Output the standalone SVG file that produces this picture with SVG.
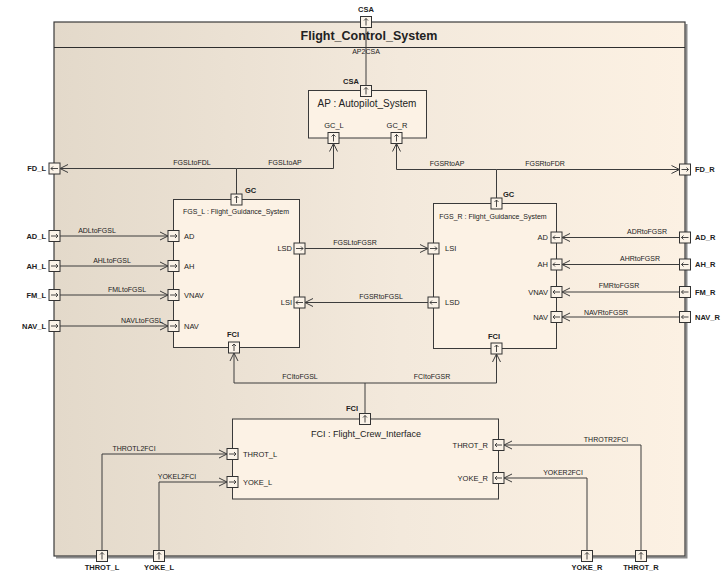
<svg xmlns="http://www.w3.org/2000/svg" xmlns:xlink="http://www.w3.org/1999/xlink" width="721" height="572" viewBox="0 0 721 572">
  <defs>
    <linearGradient id="frameFill" x1="0" y1="0" x2="1" y2="0">
      <stop offset="0" stop-color="#e3d9ca"/>
      <stop offset="0.55" stop-color="#f3e9dc"/>
      <stop offset="1" stop-color="#fcf1e3"/>
    </linearGradient>
    <marker id="open" viewBox="-9 -5 10 10" refX="0" refY="0" markerWidth="10" markerHeight="10" markerUnits="userSpaceOnUse" orient="auto">
      <path d="M-8,-4 L0,0 L-8,4" fill="none" stroke="#3c3c3c" stroke-width="1"/>
    </marker>
    <!-- port glyphs, centred on 0,0 -->
    <g id="pu">
      <rect x="-5.5" y="-5.5" width="11" height="11" fill="#fbf3e8" stroke="#333" stroke-width="1"/>
      <path d="M0,3.5 V-3.5 M-2,-1.5 L0,-3.5 L2,-1.5" fill="none" stroke="#333" stroke-width="0.9"/>
    </g>
    <g id="pr">
      <rect x="-5.5" y="-5.5" width="11" height="11" fill="#fbf3e8" stroke="#333" stroke-width="1"/>
      <path d="M-3.5,0 H3.5 M1.5,-2 L3.5,0 L1.5,2" fill="none" stroke="#333" stroke-width="0.9"/>
    </g>
    <g id="pl">
      <rect x="-5.5" y="-5.5" width="11" height="11" fill="#fbf3e8" stroke="#333" stroke-width="1"/>
      <path d="M3.5,0 H-3.5 M-1.5,-2 L-3.5,0 L-1.5,2" fill="none" stroke="#333" stroke-width="0.9"/>
    </g>
  </defs>
  <style>
    text { font-family: "Liberation Sans", Arial, sans-serif; fill: #222; }
    .title { font-size: 12.5px; font-weight: bold; text-anchor: middle; }
    .part { font-size: 10px; text-anchor: middle; }
    .partS { font-size: 7px; text-anchor: middle; }
    .partM { font-size: 9px; text-anchor: middle; }
    .cl { font-size: 7px; text-anchor: middle; }
    .pl { font-size: 7.5px; }
    .ob { font-size: 7.5px; font-weight: bold; }
    .mid { text-anchor: middle; }
    .end { text-anchor: end; }
    .box { fill: #fcf2e5; stroke: #3a3a3a; stroke-width: 1; }
    .wire { fill: none; stroke: #3c3c3c; stroke-width: 1; }
    .arr { marker-end: url(#open); }
  </style>

  <rect width="721" height="572" fill="#ffffff"/>

  <!-- outer block: Flight_Control_System -->
  <g id="Flight_Control_System">
    <path d="M686.5,24 V557.5 H56" fill="none" stroke="#8c8c8c" stroke-width="2"/>
    <rect x="54" y="22" width="631" height="534" fill="url(#frameFill)" stroke="#3a3a3a" stroke-width="1.2"/>
    <line x1="54" y1="47.5" x2="685" y2="47.5" stroke="#2e2e2e" stroke-width="1.2"/>
    <text class="title" x="369" y="40">Flight_Control_System</text>

    <use xlink:href="#pu" x="366" y="22"/>
    <text class="ob mid" x="366" y="12">CSA</text>

    <use xlink:href="#pl" x="54.5" y="168.5"/>
    <text class="ob end" x="46" y="171">FD_L</text>
    <use xlink:href="#pr" x="54.5" y="236"/>
    <text class="ob end" x="46" y="238.5">AD_L</text>
    <use xlink:href="#pr" x="54.5" y="266"/>
    <text class="ob end" x="46" y="268.5">AH_L</text>
    <use xlink:href="#pr" x="54.5" y="295"/>
    <text class="ob end" x="46" y="297.5">FM_L</text>
    <use xlink:href="#pr" x="54.5" y="326"/>
    <text class="ob end" x="46" y="328.5">NAV_L</text>

    <use xlink:href="#pr" x="685" y="169.5"/>
    <text class="ob" x="695" y="172">FD_R</text>
    <use xlink:href="#pl" x="685" y="237.5"/>
    <text class="ob" x="695" y="240">AD_R</text>
    <use xlink:href="#pl" x="685" y="264.5"/>
    <text class="ob" x="695" y="267">AH_R</text>
    <use xlink:href="#pl" x="685" y="292"/>
    <text class="ob" x="695" y="294.5">FM_R</text>
    <use xlink:href="#pl" x="685" y="317"/>
    <text class="ob" x="695" y="319.5">NAV_R</text>

    <use xlink:href="#pu" x="102" y="556"/>
    <text class="ob mid" x="102" y="570">THROT_L</text>
    <use xlink:href="#pu" x="159" y="556"/>
    <text class="ob mid" x="159" y="570">YOKE_L</text>
    <use xlink:href="#pu" x="587" y="556"/>
    <text class="ob mid" x="587" y="570">YOKE_R</text>
    <use xlink:href="#pu" x="641" y="556"/>
    <text class="ob mid" x="641" y="570">THROT_R</text>
  </g>

  <!-- AP : Autopilot_System -->
  <g id="AP">
    <rect class="box" x="308.5" y="90.5" width="118" height="47.5"/>
    <text class="part" x="367" y="107">AP : Autopilot_System</text>
    <use xlink:href="#pu" x="366" y="91"/>
    <text class="ob mid" x="351" y="84">CSA</text>
    <use xlink:href="#pu" x="333.5" y="138"/>
    <text class="pl mid" x="334" y="128">GC_L</text>
    <use xlink:href="#pu" x="396.5" y="138"/>
    <text class="pl mid" x="397" y="128">GC_R</text>
  </g>

  <!-- FGS_L : Flight_Guidance_System -->
  <g id="FGS_L">
    <rect class="box" x="173.5" y="199.5" width="126" height="148"/>
    <text class="partS" x="236" y="214">FGS_L : Flight_Guidance_System</text>
    <use xlink:href="#pu" x="236.5" y="199.5"/>
    <text class="ob" x="245" y="193">GC</text>
    <use xlink:href="#pr" x="173.5" y="236"/>
    <text class="pl" x="184" y="238.5">AD</text>
    <use xlink:href="#pr" x="173.5" y="266"/>
    <text class="pl" x="184" y="268.5">AH</text>
    <use xlink:href="#pr" x="173.5" y="295"/>
    <text class="pl" x="184" y="297.5">VNAV</text>
    <use xlink:href="#pr" x="173.5" y="326"/>
    <text class="pl" x="184" y="328.5">NAV</text>
    <use xlink:href="#pr" x="299.5" y="248.5"/>
    <text class="pl end" x="292" y="251">LSD</text>
    <use xlink:href="#pl" x="299.5" y="302.5"/>
    <text class="pl end" x="292" y="305">LSI</text>
    <use xlink:href="#pu" x="234" y="347.5"/>
    <text class="ob mid" x="233" y="337">FCI</text>
  </g>

  <!-- FGS_R : Flight_Guidance_System -->
  <g id="FGS_R">
    <rect class="box" x="433.5" y="203.5" width="123" height="145"/>
    <text class="partS" x="493" y="219">FGS_R : Flight_Guidance_System</text>
    <use xlink:href="#pu" x="496.5" y="203.5"/>
    <text class="ob" x="503" y="197">GC</text>
    <use xlink:href="#pr" x="433.5" y="248.5"/>
    <text class="pl" x="445" y="251">LSI</text>
    <use xlink:href="#pl" x="433.5" y="302.5"/>
    <text class="pl" x="445" y="305">LSD</text>
    <use xlink:href="#pl" x="556.5" y="237.5"/>
    <text class="pl end" x="548" y="240">AD</text>
    <use xlink:href="#pl" x="556.5" y="264.5"/>
    <text class="pl end" x="548" y="267">AH</text>
    <use xlink:href="#pl" x="556.5" y="292"/>
    <text class="pl end" x="548" y="294.5">VNAV</text>
    <use xlink:href="#pl" x="556.5" y="317"/>
    <text class="pl end" x="548" y="319.5">NAV</text>
    <use xlink:href="#pu" x="496.5" y="348.5"/>
    <text class="ob mid" x="494" y="339">FCI</text>
  </g>

  <!-- FCI : Flight_Crew_Interface -->
  <g id="FCI">
    <rect class="box" x="232.5" y="419" width="266" height="80"/>
    <text class="partM" x="366" y="437">FCI : Flight_Crew_Interface</text>
    <use xlink:href="#pu" x="365" y="419"/>
    <text class="ob end" x="358" y="411">FCI</text>
    <use xlink:href="#pr" x="232.5" y="454"/>
    <text class="pl" x="243" y="456.5">THROT_L</text>
    <use xlink:href="#pr" x="232.5" y="482"/>
    <text class="pl" x="243" y="484.5">YOKE_L</text>
    <use xlink:href="#pl" x="498.5" y="445"/>
    <text class="pl end" x="488" y="447.5">THROT_R</text>
    <use xlink:href="#pl" x="498.5" y="478"/>
    <text class="pl end" x="488" y="480.5">YOKE_R</text>
  </g>

  <!-- connectors -->
  <g id="connectors">
    <path class="wire" d="M366,85.5 V27.5"/>
    <text class="cl" x="366" y="53.5">AP2CSA</text>

    <path class="wire arr" d="M236.5,194 V168.5 H60"/>
    <path class="wire arr" d="M236.5,168.5 H333.5 V143.5"/>
    <text class="cl" x="192" y="165">FGSLtoFDL</text>
    <text class="cl" x="285" y="165">FGSLtoAP</text>

    <path class="wire arr" d="M496.5,198 V169.5 H679.5"/>
    <path class="wire arr" d="M496.5,169.5 H396.5 V143.5"/>
    <text class="cl" x="447" y="166">FGSRtoAP</text>
    <text class="cl" x="545" y="166">FGSRtoFDR</text>

    <path class="wire arr" d="M60,236 H168"/>
    <text class="cl" x="97" y="232.5">ADLtoFGSL</text>
    <path class="wire arr" d="M60,266 H168"/>
    <text class="cl" x="112" y="262.5">AHLtoFGSL</text>
    <path class="wire arr" d="M60,295 H168"/>
    <text class="cl" x="127" y="292">FMLtoFGSL</text>
    <path class="wire arr" d="M60,326 H168"/>
    <text class="cl" x="142" y="322.5">NAVLtoFGSL</text>

    <path class="wire arr" d="M305,248.5 H428"/>
    <text class="cl" x="355" y="244.5">FGSLtoFGSR</text>
    <path class="wire arr" d="M428,302.5 H305"/>
    <text class="cl" x="381" y="299">FGSRtoFGSL</text>

    <path class="wire arr" d="M679.5,237.5 H562"/>
    <text class="cl" x="647" y="233.5">ADRtoFGSR</text>
    <path class="wire arr" d="M679.5,264.5 H562"/>
    <text class="cl" x="640" y="260.5">AHRtoFGSR</text>
    <path class="wire arr" d="M679.5,292 H562"/>
    <text class="cl" x="619" y="287.5">FMRtoFGSR</text>
    <path class="wire arr" d="M679.5,317 H562"/>
    <text class="cl" x="606" y="314.5">NAVRtoFGSR</text>

    <path class="wire arr" d="M365,413.5 V383 H234 V353"/>
    <path class="wire arr" d="M365,383 H496.5 V354"/>
    <text class="cl" x="300" y="378.5">FCItoFGSL</text>
    <text class="cl" x="432" y="378.5">FCItoFGSR</text>

    <path class="wire arr" d="M102,550.5 V454 H227"/>
    <text class="cl" x="134" y="450.5">THROTL2FCI</text>
    <path class="wire arr" d="M159,550.5 V482 H227"/>
    <text class="cl" x="177" y="478.5">YOKEL2FCI</text>
    <path class="wire arr" d="M641,550.5 V445 H504"/>
    <text class="cl" x="606" y="441.5">THROTR2FCI</text>
    <path class="wire arr" d="M587,550.5 V478 H504"/>
    <text class="cl" x="563" y="475">YOKER2FCI</text>
  </g>
</svg>
